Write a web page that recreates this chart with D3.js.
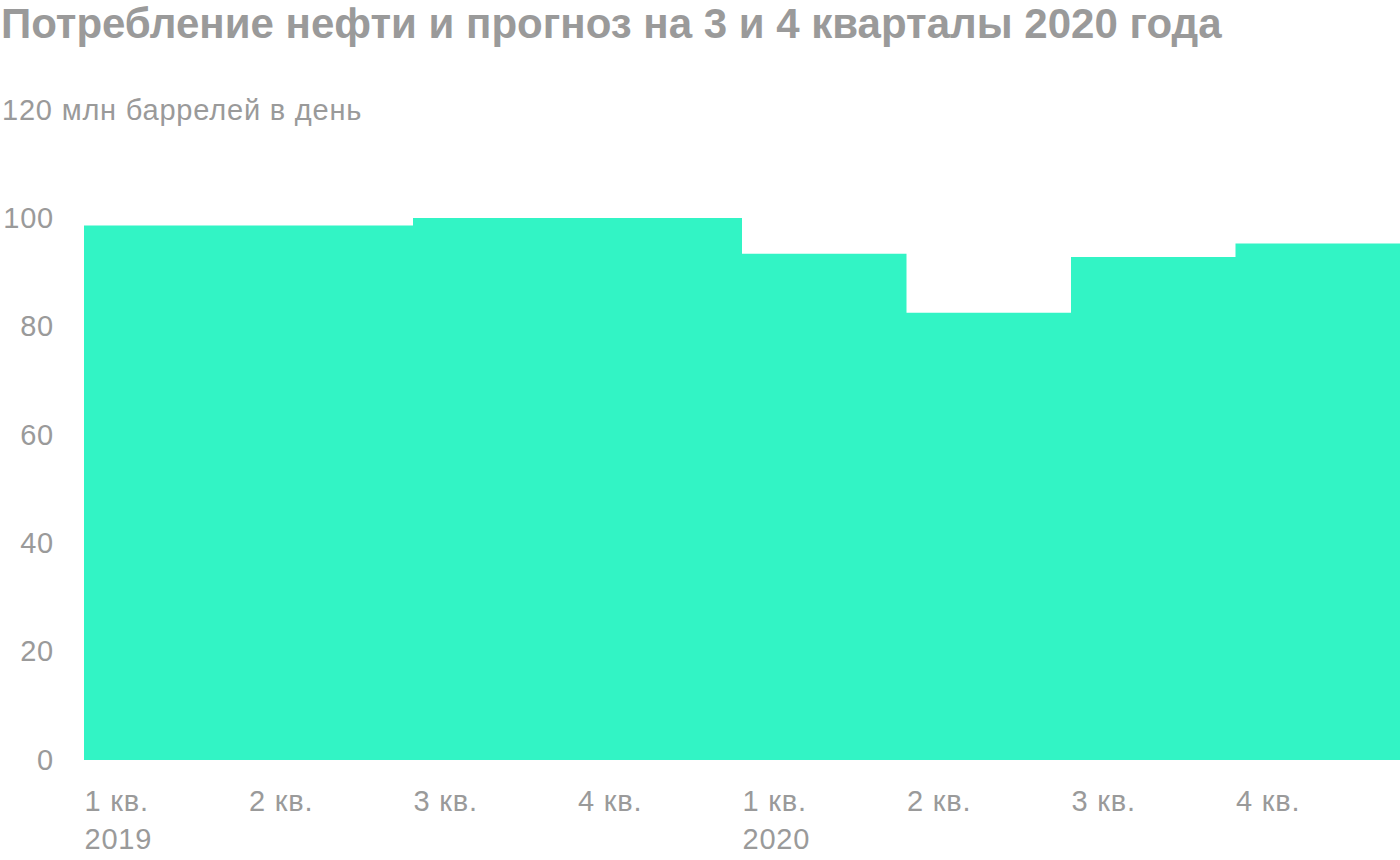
<!DOCTYPE html>
<html><head><meta charset="utf-8">
<script src="https://cdn.jsdelivr.net/npm/d3@7"></script>
<style>
body{margin:0;background:#fff;}
svg{display:block;}
text{font-family:"Liberation Sans",Arial,sans-serif;}
</style></head>
<body>
<svg id="c" width="1400" height="860"></svg>
<script>
const quarters = ["1 кв.","2 кв.","3 кв.","4 кв.","1 кв.","2 кв.","3 кв.","4 кв."];
const years = ["2019","","","","2020","","",""];
const consumption = [98.6, 98.6, 100.0, 100.0, 93.4, 82.5, 92.8, 95.3];
const yTicks = [0, 20, 40, 60, 80, 100];
const topTick = 120;
const unitLabel = "млн баррелей в день";
const title = "Потребление нефти и прогноз на 3 и 4 кварталы 2020 года";

const grey = "#9a9a9a";
const fs = 29;
const ls = 0.8;
const svg = d3.select("#c");
const x = d3.scaleLinear().domain([0, quarters.length]).range([84, 1400]);
const y = d3.scaleLinear().domain([0, 120]).range([760, 109.6]);

const t = svg.append("text").attr("x", 1).attr("y", 38)
  .attr("font-size", 42).attr("font-weight", 700).attr("fill", grey)
  .text(title);
const tw = t.node().getComputedTextLength();
t.attr("font-size", 42 * 1221 / tw);

const pts = consumption.map((v, i) => [i, v]).concat([[quarters.length, consumption[consumption.length - 1]]]);
const area = d3.area().curve(d3.curveStepAfter)
  .x(d => x(d[0])).y0(y(0)).y1(d => y(d[1]));
svg.append("path").datum(pts).attr("d", area).attr("fill", "#32f4c5");

const yAxis = svg.append("g").attr("transform", "translate(54,0)")
  .call(d3.axisLeft(y).tickValues(yTicks).tickSize(0).tickPadding(0));
yAxis.select(".domain").remove();
yAxis.selectAll("text").attr("font-size", fs).attr("fill", grey).attr("letter-spacing", ls)
  .style("font-family", "'Liberation Sans', Arial, sans-serif");

svg.append("text").attr("x", 2).attr("y", y(topTick)).attr("dy", "0.35em")
  .attr("font-size", fs).attr("fill", grey).attr("letter-spacing", ls)
  .text(topTick + " " + unitLabel);

const xAxis = svg.append("g").attr("transform", "translate(0,760)")
  .call(d3.axisBottom(x).tickValues(d3.range(quarters.length)).tickSize(0).tickPadding(0)
    .tickFormat(i => quarters[i]));
xAxis.select(".domain").remove();
xAxis.selectAll("text").attr("text-anchor", "start").attr("x", 0).attr("y", 51).attr("dy", 0)
  .attr("font-size", fs).attr("fill", grey).attr("letter-spacing", ls)
  .style("font-family", "'Liberation Sans', Arial, sans-serif");
xAxis.selectAll(".tick").append("text")
  .attr("x", 0).attr("y", 89).attr("text-anchor", "start")
  .attr("font-size", fs).attr("fill", grey).attr("letter-spacing", ls)
  .style("font-family", "'Liberation Sans', Arial, sans-serif")
  .text(i => years[i]);
</script>
</body></html>
